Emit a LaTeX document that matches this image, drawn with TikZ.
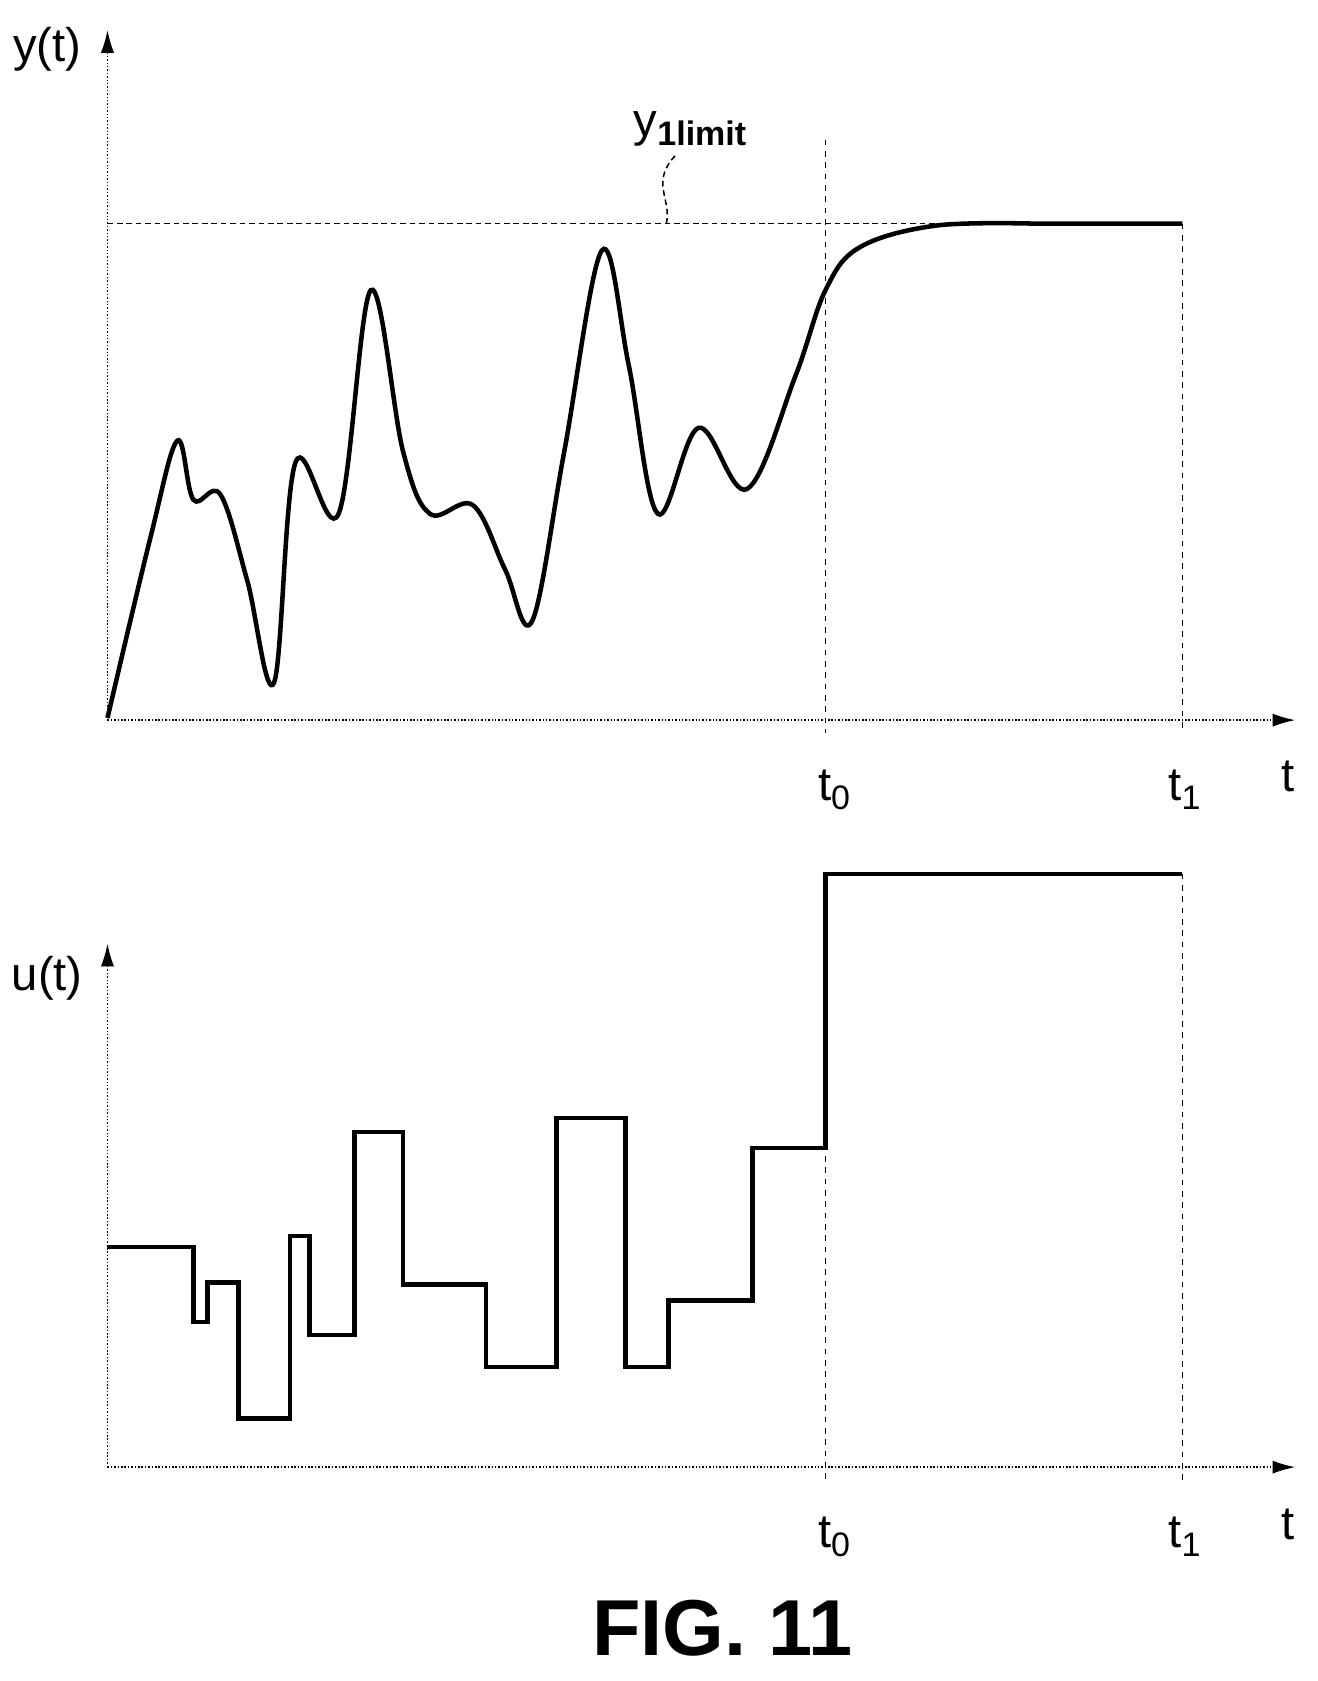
\documentclass[tikz,border=0pt]{standalone}
\usepackage{fontspec}
\setmainfont{Liberation Sans}
\usetikzlibrary{arrows.meta}
\newcommand{\sub}[1]{\raisebox{-0.35ex}{\fontsize{18}{20}\selectfont #1}}
\begin{document}
\begin{tikzpicture}[x=0.02cm,y=-0.02cm]
\tikzset{axis/.style={densely dotted,thick,-{Latex[length=12pt,width=7pt]}},
  guide/.style={dashed,thick},
  lbl/.style={font=\fontsize{25}{30}\selectfont}}
\useasboundingbox (0,0) rectangle (1226,1564);
% upper plot
\coordinate (o1) at (100,670);
\coordinate (ytop) at (100,28);
\coordinate (xend1) at (1205,670);
\draw [axis] (o1) -- (ytop);
\draw [axis] (o1) -- (xend1);
\node (ylab) at (44,46) [lbl] {y(t)};
\coordinate (lim0) at (100,208);
\coordinate (lim1) at (1100,208);
\draw [densely dashed,thick] (lim0) -- (lim1);
\coordinate (t0a) at (768,130);
\coordinate (t0b) at (768,682);
\coordinate (t1a) at (1100,208);
\coordinate (t1b) at (1100,682);
\draw [guide] (t0a) -- (t0b);
\draw [guide] (t1a) -- (t1b);
\node (ylim) at (642,120) [lbl] {y\sub{\bfseries 1limit}};
\coordinate (leadtop) at (628,145);
\coordinate (limpt) at (620,208);
\draw [densely dashed,thick] (leadtop) .. controls (605,170) and (625,185) .. (limpt);
\node (t0l) at (776,735) [lbl] {t\sub{0}};
\node (t1l) at (1102,735) [lbl] {t\sub{1}};
\node (tl1) at (1198,722) [lbl] {t};
\draw [line width=2.4pt] plot [smooth,tension=0.6] coordinates {(100,668) (140,500) (165,410) (180,465) (205,460) (230,540) (255,635) (275,430) (315,478) (345,270) (375,420) (400,478) (440,470) (470,530) (495,578) (525,420) (560,233) (585,340) (612,478) (650,398) (695,455) (740,350) (768,270) (800,230) (870,210) (960,208)} -- (1100,208);
% lower plot
\coordinate (o2) at (100,1365);
\coordinate (utop) at (100,878);
\coordinate (xend2) at (1205,1365);
\draw [axis] (o2) -- (utop);
\draw [axis] (o2) -- (xend2);
\node (ulab) at (44,910) [lbl] {u(t)};
\coordinate (s0a) at (768,1065);
\coordinate (s0b) at (768,1377);
\coordinate (s1a) at (1100,813);
\coordinate (s1b) at (1100,1377);
\draw [guide] (s0a) -- (s0b);
\draw [guide] (s1a) -- (s1b);
\node (t0m) at (776,1430) [lbl] {t\sub{0}};
\node (t1m) at (1102,1430) [lbl] {t\sub{1}};
\node (tl2) at (1198,1418) [lbl] {t};
\draw [line width=2.4pt] (100,1160) -| (180,1230) -| (193,1193) -| (222,1320) -| (270,1150) -| (288,1242) -| (330,1053) -| (375,1195) -| (452,1272) -| (518,1040) -| (582,1272) -| (622,1210) -| (700,1068) -| (768,813) -- (1100,813);
\node (fig) at (672,1515) [font=\fontsize{42}{48}\selectfont\bfseries] {FIG. 11};
\end{tikzpicture}
\end{document}
